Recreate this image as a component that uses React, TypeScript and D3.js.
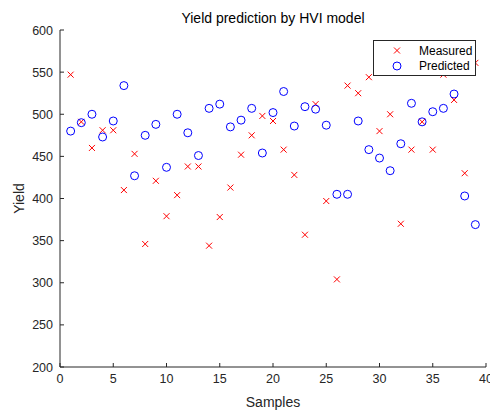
import React from "react";
import * as d3 from "d3";

const samples = d3.range(1, 40);
const measured = [547, 491, 460, 481, 481, 410, 453, 346, 421, 379, 404, 438, 438, 344, 378, 413, 452, 475, 498, 492, 458, 428, 357, 512, 397, 304, 534, 525, 544, 480, 500, 370, 458, 491, 458, 547, 517, 430, 561];
const predicted = [480, 490, 500, 473, 492, 534, 427, 475, 488, 437, 500, 478, 451, 507, 512, 485, 493, 507, 454, 502, 527, 486, 509, 506, 487, 405, 405, 492, 458, 448, 433, 465, 513, 491, 503, 507, 524, 403, 369];
const xTicks = [0, 5, 10, 15, 20, 25, 30, 35, 40];
const yTicks = [200, 250, 300, 350, 400, 450, 500, 550, 600];
const legendLabels = ["Measured", "Predicted"];

const W = 490, H = 411;
const left = 60, right = 486, top = 30, bottom = 367;
const axisColor = "#262626";
const font = "'Liberation Sans', Arial, Helvetica, sans-serif";

export default function App() {
  const x = d3.scaleLinear().domain([0, 40]).range([left, right]);
  const y = d3.scaleLinear().domain([200, 600]).range([bottom, top]);
  const cs = 3;
  const cross = (cx: number, cy: number, key: string) => (
    <path key={key} d={`M${cx - cs},${cy - cs}L${cx + cs},${cy + cs}M${cx - cs},${cy + cs}L${cx + cs},${cy - cs}`} stroke="#ff0000" strokeWidth={1} fill="none" />
  );
  return (
    <svg width={W} height={H} style={{ position: "absolute", left: 0, top: 0, background: "#fff" }} fontFamily={font}>
      <rect width={W} height={H} fill="#fff" />
      {/* axes */}
      <line x1={left} x2={right} y1={bottom} y2={bottom} stroke={axisColor} strokeWidth={1} />
      <line x1={left} x2={left} y1={top} y2={bottom} stroke={axisColor} strokeWidth={1} />
      {xTicks.map((t) => (
        <g key={"xt" + t}>
          <line x1={x(t)} x2={x(t)} y1={bottom} y2={bottom - 4} stroke={axisColor} />
          <text x={x(t)} y={bottom + 16} textAnchor="middle" fontSize={12.5} fill={axisColor}>{t}</text>
        </g>
      ))}
      {yTicks.map((t) => (
        <g key={"yt" + t}>
          <line x1={left} x2={left + 4} y1={y(t)} y2={y(t)} stroke={axisColor} />
          <text x={left - 7} y={y(t) + 4.5} textAnchor="end" fontSize={12.5} fill={axisColor}>{t}</text>
        </g>
      ))}
      <text x={(left + right) / 2} y={18} dy="0.35em" textAnchor="middle" fontSize={14} fill="#000">Yield prediction by HVI model</text>
      <text x={(left + right) / 2} y={402} dy="0.35em" textAnchor="middle" fontSize={14} fill={axisColor}>Samples</text>
      <text transform={`translate(19,${(top + bottom) / 2}) rotate(-90)`} dy="0.35em" textAnchor="middle" fontSize={14} fill={axisColor}>Yield</text>
      {/* data */}
      {samples.map((s, i) => cross(x(s), y(measured[i]), "m" + i))}
      {samples.map((s, i) => (
        <circle key={"p" + i} cx={x(s)} cy={y(predicted[i])} r={4} fill="none" stroke="#0000ff" strokeWidth={1} />
      ))}
      {/* legend */}
      <rect x={373.5} y={40.5} width={102} height={35} fill="#fff" stroke={axisColor} strokeWidth={1} />
      {cross(397, 50.5, "lm")}
      <circle cx={397} cy={66} r={4} fill="none" stroke="#0000ff" strokeWidth={1} />
      <text x={419} y={50.5} dy="0.35em" fontSize={12} fill="#000">{legendLabels[0]}</text>
      <text x={419} y={66} dy="0.35em" fontSize={12} fill="#000">{legendLabels[1]}</text>
    </svg>
  );
}
